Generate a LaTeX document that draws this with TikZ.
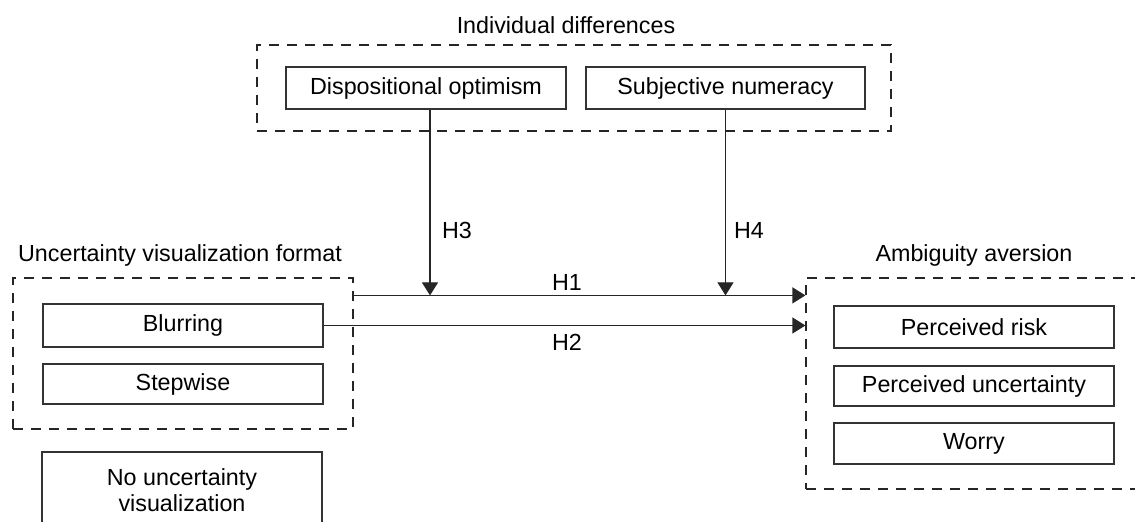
\documentclass[tikz,border=0pt]{standalone}
\usepackage{fontspec}
\setmainfont{Liberation Sans}
\usetikzlibrary{arrows.meta,calc}
\begin{document}
\begin{tikzpicture}[x=0.5pt,y=-0.5pt,
  every node/.style={font=\fontsize{11.65}{14}\selectfont, text=black},
  itembox/.style={draw=black!80, line width=0.6pt, rectangle, minimum width=140pt, inner sep=0pt, align=center},
  groupbox/.style={draw=black!85, line width=0.6pt, dash pattern=on 5pt off 4pt, rectangle, inner sep=0pt},
  arr/.style={draw=black!85, line width=0.6pt, -{Triangle[length=6.5pt,width=8pt]}},
  plain/.style={draw=black!85, line width=0.6pt}
]
\useasboundingbox (0,0) rectangle (1135,522);
\clip (0,0) rectangle (1135,522);

% group boxes
\node[groupbox, minimum width=317pt, minimum height=43pt] (gtop) at (574,88) {};
\node[groupbox, minimum width=170pt, minimum height=75.5pt] (gleft) at (183,353.5) {};
\node[groupbox, minimum width=175pt, minimum height=105.5pt] (gright) at (981,383.5) {};

% titles
\node (ttop) at (566,25) {Individual differences};
\node (tleft) at (180,255) {Uncertainty visualization format};
\node (tright) at (974,255) {Ambiguity aversion};

% items
\node[itembox, minimum height=21pt] (disp) at (426,88) {Dispositional optimism};
\node[itembox, minimum width=139.5pt, minimum height=21pt] (subj) at (725.5,88) {Subjective numeracy};

\node[itembox, minimum height=21.5pt] (blur) at (183,325.5) {Blurring};
\node[itembox, minimum height=20pt] (step) at (183,384) {Stepwise};
\node[itembox, minimum height=38pt] (nouv) at (182,490) {No uncertainty\\[-1pt]visualization};

\node[itembox, minimum height=21pt] (risk) at (974,327) {Perceived risk};
\node[itembox, minimum height=20pt] (unc) at (974,386) {Perceived uncertainty};
\node[itembox, minimum height=20.5pt] (worry) at (974,443.5) {Worry};

% connectors
\path (gleft.north east) ++(0,18) coordinate (h1s);
\draw[arr] (h1s) -- (h1s -| gright.west);
\draw[plain] (h1s) -- ++(0,-3);
\draw[arr] (blur.east) -- (blur.east -| gright.west);

\path (disp.south) ++(4,0) coordinate (h3s);
\draw[arr] (h3s) -- (h3s |- h1s);
\draw[arr] (subj.south) -- (subj.south |- h1s);

% labels
\node (h1) at (567,282) {H1};
\node (h2) at (567,342) {H2};
\node (h3) at (457,230) {H3};
\node (h4) at (749,230) {H4};
\end{tikzpicture}
\end{document}
